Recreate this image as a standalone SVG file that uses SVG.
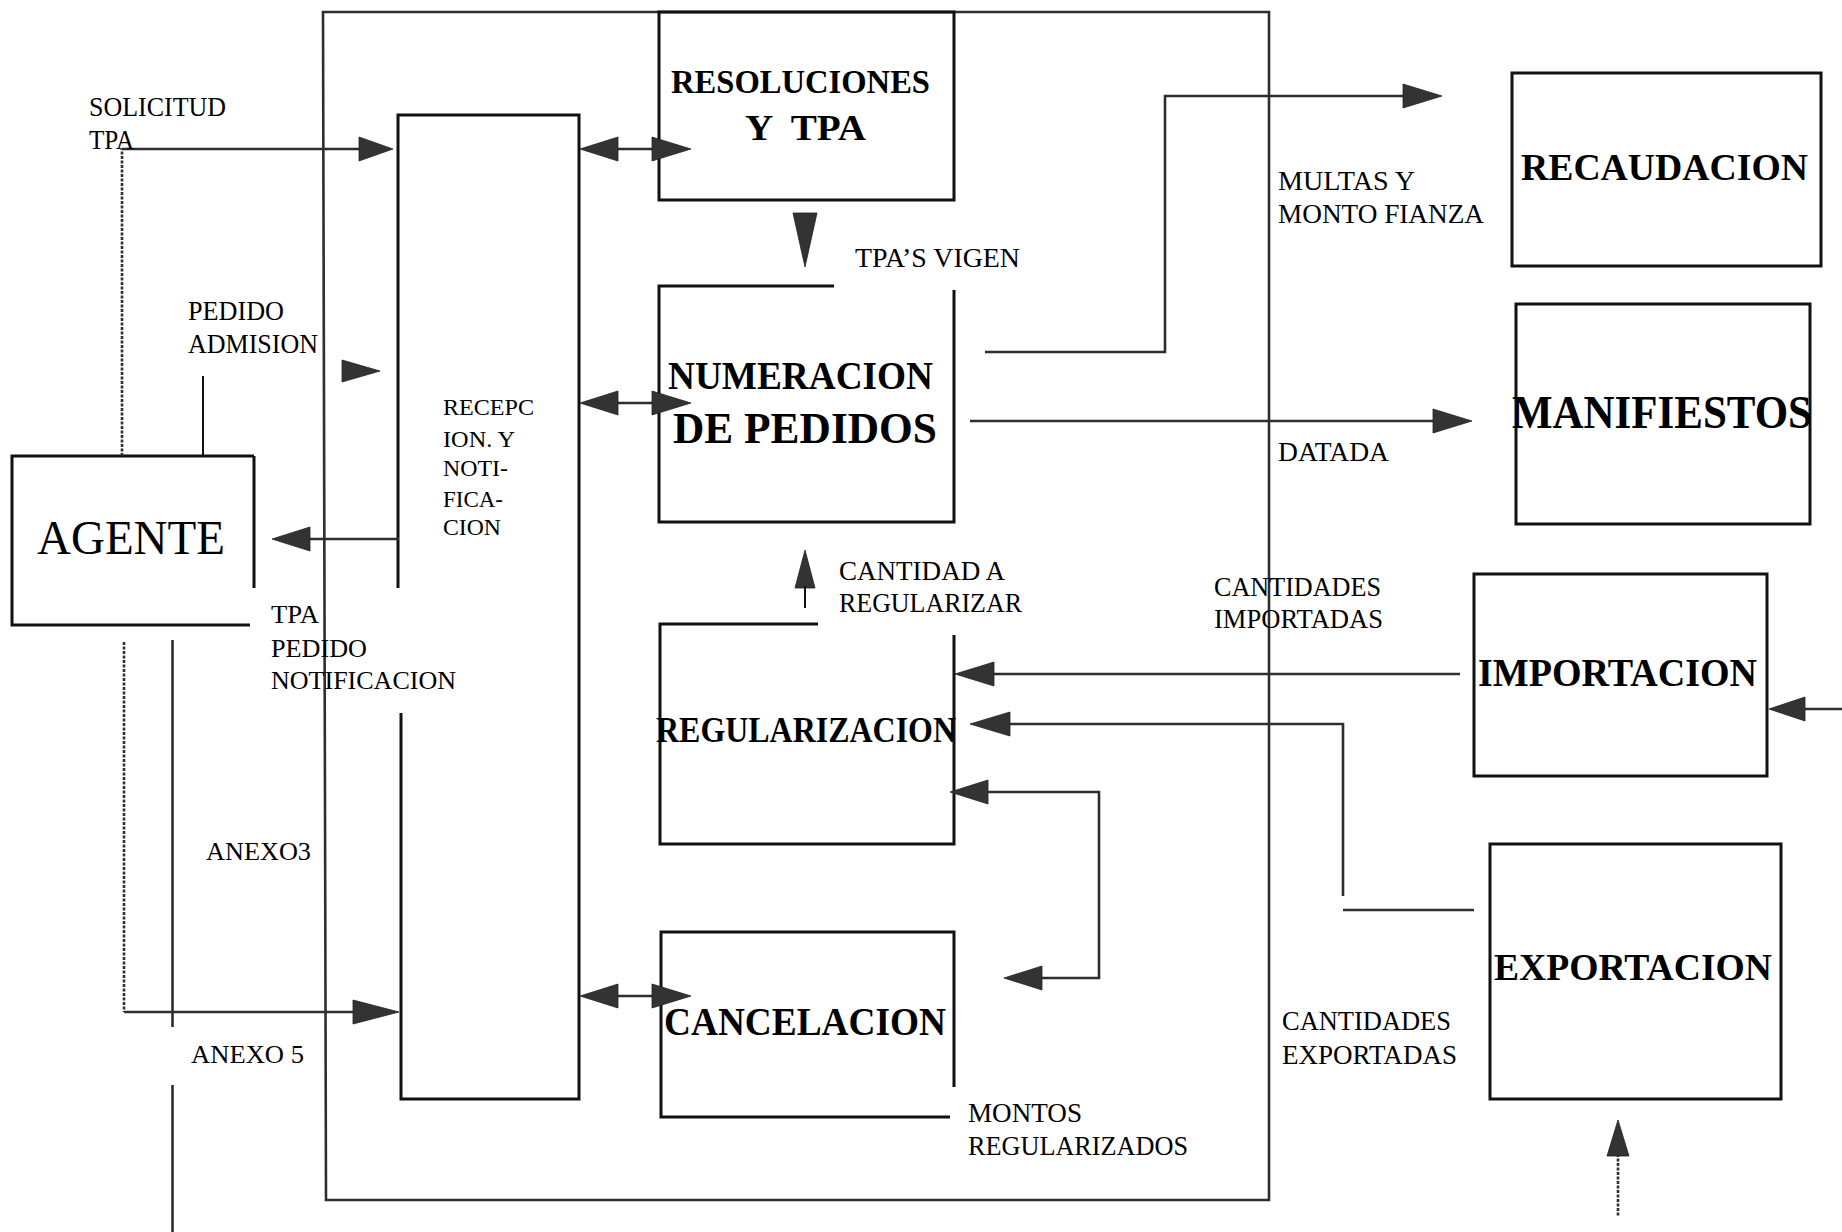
<svg xmlns="http://www.w3.org/2000/svg" width="1842" height="1232" viewBox="0 0 1842 1232">
<style>
.bx{fill:none;stroke:#111;stroke-width:3}
.cn{fill:none;stroke:#2e2e2e;stroke-width:2.6}
.dt{fill:none;stroke:#2e2e2e;stroke-width:2.6;stroke-dasharray:3 1.5}
.ah{fill:#333;stroke:#222;stroke-width:0.8}
.t{font-family:"Liberation Serif","Times New Roman",serif;fill:#000}
.b{font-family:"Liberation Serif","Times New Roman",serif;font-weight:bold;fill:#000}
</style>
<rect width="1842" height="1232" fill="#fff"/>

<g id="sistema">
<path class="cn" d="M323,12 H1269 V1200 H326 Z"/>
</g>

<g id="agente">
<path class="bx" d="M254,456 H12 V625 H250 M254,456 V588"/>
<text class="t" x="37" y="554" font-size="48" textLength="188" lengthAdjust="spacingAndGlyphs">AGENTE</text>
</g>

<g id="recepcion">
<path class="bx" d="M398,588 V115 H579 V1099 H401 V713"/>
<text class="t" x="443" y="415" font-size="24" textLength="91" lengthAdjust="spacingAndGlyphs">RECEPC</text>
<text class="t" x="443" y="447" font-size="24" textLength="72" lengthAdjust="spacingAndGlyphs">ION. Y</text>
<text class="t" x="443" y="476" font-size="24" textLength="65" lengthAdjust="spacingAndGlyphs">NOTI-</text>
<text class="t" x="443" y="507" font-size="24" textLength="60" lengthAdjust="spacingAndGlyphs">FICA-</text>
<text class="t" x="443" y="535" font-size="24" textLength="58" lengthAdjust="spacingAndGlyphs">CION</text>
</g>

<g id="resoluciones">
<path class="bx" d="M659,12 H954 V200 H659 Z"/>
<text class="b" x="671" y="93" font-size="33" textLength="259" lengthAdjust="spacingAndGlyphs">RESOLUCIONES</text>
<text class="b" x="745" y="140" font-size="35" textLength="121" lengthAdjust="spacingAndGlyphs" xml:space="preserve">Y  TPA</text>
</g>

<g id="numeracion">
<path class="bx" d="M834,286 H659 V522 H954 V290"/>
<text class="b" x="668" y="389" font-size="41" textLength="265" lengthAdjust="spacingAndGlyphs">NUMERACION</text>
<text class="b" x="673" y="443" font-size="45" textLength="264" lengthAdjust="spacingAndGlyphs">DE PEDIDOS</text>
</g>

<g id="regularizacion">
<path class="bx" d="M818,624 H660 V844 H954 V635"/>
<text class="b" x="656" y="742" font-size="35" textLength="300" lengthAdjust="spacingAndGlyphs">REGULARIZACION</text>
</g>

<g id="cancelacion">
<path class="bx" d="M950,1117 H661 V932 H954 V1087"/>
<text class="b" x="664" y="1035" font-size="40" textLength="282" lengthAdjust="spacingAndGlyphs">CANCELACION</text>
</g>

<g id="recaudacion">
<rect class="bx" x="1512" y="73" width="309" height="193"/>
<text class="b" x="1521" y="180" font-size="38" textLength="287" lengthAdjust="spacingAndGlyphs">RECAUDACION</text>
</g>

<g id="manifiestos">
<rect class="bx" x="1516" y="304" width="294" height="220"/>
<text class="b" x="1512" y="428" font-size="46" textLength="300" lengthAdjust="spacingAndGlyphs">MANIFIESTOS</text>
</g>

<g id="importacion">
<rect class="bx" x="1474" y="574" width="293" height="202"/>
<text class="b" x="1478" y="686" font-size="39" textLength="279" lengthAdjust="spacingAndGlyphs">IMPORTACION</text>
</g>

<g id="exportacion">
<rect class="bx" x="1490" y="844" width="291" height="255"/>
<text class="b" x="1494" y="980" font-size="38" textLength="278" lengthAdjust="spacingAndGlyphs">EXPORTACION</text>
</g>

<g id="connectors">
<path class="dt" d="M122,456 V149"/>
<path class="cn" d="M122,149 H362"/>
<polygon class="ah" points="359,137 393,149 359,161"/>
<path class="bx" style="stroke-width:2" d="M203,376 V456"/>
<polygon class="ah" points="342,360 380,371 342,382"/>
<path class="cn" d="M399,539 H306"/>
<polygon class="ah" points="310,527 272,539 310,551"/>
<path class="cn" d="M615,149 H655"/>
<polygon class="ah" points="618,137 580,149 618,161"/>
<polygon class="ah" points="652,137 691,149 652,161"/>
<path class="cn" d="M615,403 H655"/>
<polygon class="ah" points="618,391 580,403 618,415"/>
<polygon class="ah" points="652,391 691,403 652,415"/>
<path class="cn" d="M615,996 H655"/>
<polygon class="ah" points="618,984 580,996 618,1008"/>
<polygon class="ah" points="652,984 691,996 652,1008"/>
<polygon class="ah" points="793,213 817,213 805,267"/>
<polygon class="ah" points="795,588 815,588 805,550"/>
<path class="bx" style="stroke-width:2" d="M805,586 V608"/>
<path class="cn" d="M985,352 H1165 V96 H1406"/>
<polygon class="ah" points="1403,84 1442,96 1403,108"/>
<path class="cn" d="M970,421 H1436"/>
<polygon class="ah" points="1433,409 1472,421 1433,433"/>
<path class="cn" d="M1460,674 H990"/>
<polygon class="ah" points="994,662 955,674 994,686"/>
<path class="cn" d="M1474,910 H1343 M1343,896 V724 H1006"/>
<polygon class="ah" points="1010,712 970,724 1010,736"/>
<path class="cn" d="M985,792 H1099 V978 H1038"/>
<polygon class="ah" points="988,780 950,792 988,804"/>
<polygon class="ah" points="1042,966 1004,978 1042,990"/>
<path class="cn" d="M1842,709 H1802"/>
<polygon class="ah" points="1805,697 1769,709 1805,721"/>
<path class="dt" d="M1618,1154 V1217"/>
<polygon class="ah" points="1607,1156 1618,1120 1629,1156"/>
<path class="dt" d="M124,642 V1012"/>
<path class="cn" d="M124,1012 H356"/>
<polygon class="ah" points="353,1000 399,1012 353,1024"/>
<path class="cn" d="M172.5,640 V1027 M172.5,1085 V1232"/>
</g>

<g id="labels">
<text class="t" x="89" y="116" font-size="28" textLength="137" lengthAdjust="spacingAndGlyphs">SOLICITUD</text>
<text class="t" x="89" y="149" font-size="28" textLength="45" lengthAdjust="spacingAndGlyphs">TPA</text>
<text class="t" x="188" y="320" font-size="28" textLength="96" lengthAdjust="spacingAndGlyphs">PEDIDO</text>
<text class="t" x="188" y="353" font-size="28" textLength="130" lengthAdjust="spacingAndGlyphs">ADMISION</text>
<text class="t" x="855" y="267" font-size="27" textLength="165" lengthAdjust="spacingAndGlyphs">TPA’S VIGEN</text>
<text class="t" x="1278" y="190" font-size="28" textLength="137" lengthAdjust="spacingAndGlyphs">MULTAS Y</text>
<text class="t" x="1278" y="223" font-size="28" textLength="206" lengthAdjust="spacingAndGlyphs">MONTO FIANZA</text>
<text class="t" x="1278" y="461" font-size="28" textLength="111" lengthAdjust="spacingAndGlyphs">DATADA</text>
<text class="t" x="271" y="623" font-size="25" textLength="48" lengthAdjust="spacingAndGlyphs">TPA</text>
<text class="t" x="271" y="657" font-size="25" textLength="96" lengthAdjust="spacingAndGlyphs">PEDIDO</text>
<text class="t" x="271" y="689" font-size="25" textLength="185" lengthAdjust="spacingAndGlyphs">NOTIFICACION</text>
<text class="t" x="839" y="580" font-size="27" textLength="166" lengthAdjust="spacingAndGlyphs">CANTIDAD A</text>
<text class="t" x="839" y="612" font-size="27" textLength="183" lengthAdjust="spacingAndGlyphs">REGULARIZAR</text>
<text class="t" x="1214" y="596" font-size="27" textLength="167" lengthAdjust="spacingAndGlyphs">CANTIDADES</text>
<text class="t" x="1214" y="628" font-size="27" textLength="169" lengthAdjust="spacingAndGlyphs">IMPORTADAS</text>
<text class="t" x="206" y="860" font-size="26" textLength="105" lengthAdjust="spacingAndGlyphs">ANEXO3</text>
<text class="t" x="191" y="1063" font-size="26" textLength="113" lengthAdjust="spacingAndGlyphs">ANEXO 5</text>
<text class="t" x="1282" y="1030" font-size="27" textLength="169" lengthAdjust="spacingAndGlyphs">CANTIDADES</text>
<text class="t" x="1282" y="1064" font-size="27" textLength="175" lengthAdjust="spacingAndGlyphs">EXPORTADAS</text>
<text class="t" x="968" y="1122" font-size="27" textLength="114" lengthAdjust="spacingAndGlyphs">MONTOS</text>
<text class="t" x="968" y="1155" font-size="27" textLength="220" lengthAdjust="spacingAndGlyphs">REGULARIZADOS</text>
</g>
</svg>
